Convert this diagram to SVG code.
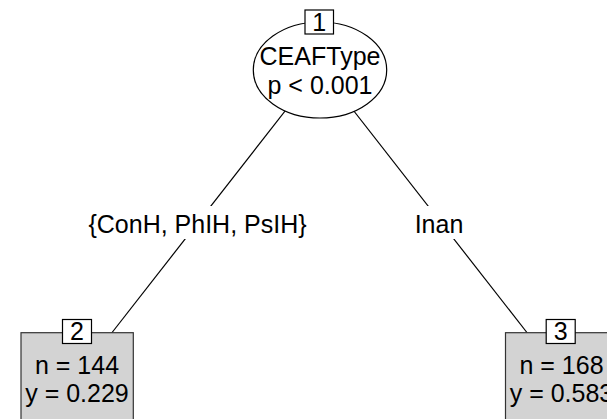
<svg xmlns="http://www.w3.org/2000/svg" width="607" height="419" viewBox="0 0 607 419">
<style>
text{font-family:"Liberation Sans",Arial,sans-serif;font-size:25px;fill:#000;text-anchor:middle}
.edge{stroke:#000;stroke-width:1.2;fill:none}
.inner{fill:#fff;stroke:#000;stroke-width:1.2}
.leaf{fill:#d3d3d3;stroke:#333;stroke-width:1.2}
.idbox{fill:#fff;stroke:#000;stroke-width:1.2}
.lblbg{fill:#fff;stroke:none}
</style>
<rect width="607" height="419" fill="#fff"/>
<g id="connectors">
<line class="edge" x1="319.5" y1="67" x2="111.7" y2="333"/>
<line class="edge" x1="319.5" y1="67" x2="527.3" y2="333"/>
<rect class="lblbg" x="84" y="206" width="228" height="33"/>
<text x="197.5" y="232.8">{ConH, PhIH, PsIH}</text>
<rect class="lblbg" x="411" y="206" width="56" height="33"/>
<text x="439" y="232.8">Inan</text>
</g>
<g id="node1">
<ellipse class="inner" cx="320" cy="70" rx="66.7" ry="48"/>
<rect class="idbox" x="305" y="10" width="28.5" height="24"/>
<text x="319.3" y="31">1</text>
<text x="320" y="65.3">CEAFType</text>
<text x="320" y="93.5">p &lt; 0.001</text>
</g>
<g id="node2">
<rect class="leaf" x="21" y="332.7" width="112.3" height="100"/>
<rect class="idbox" x="62.5" y="319.5" width="29" height="24"/>
<text x="77" y="340.3">2</text>
<text x="77" y="373.5">n = 144</text>
<text x="77" y="401.7">y = 0.229</text>
</g>
<g id="node3">
<rect class="leaf" x="505.5" y="332.7" width="112.3" height="100"/>
<rect class="idbox" x="546.2" y="319.5" width="29" height="24"/>
<text x="560.7" y="340.3">3</text>
<text x="561.5" y="373.5">n = 168</text>
<text x="561.5" y="401.7">y = 0.583</text>
</g>
</svg>
